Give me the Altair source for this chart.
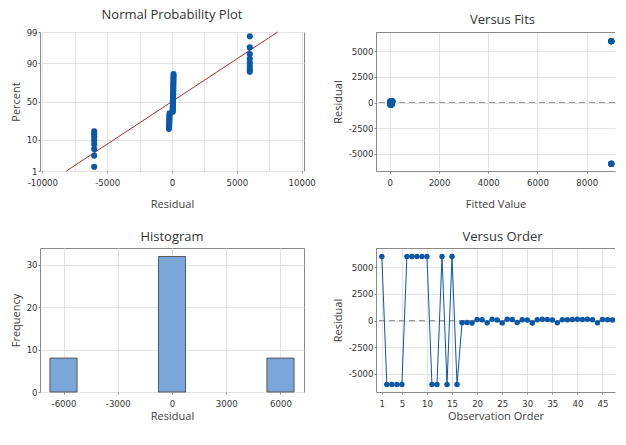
import altair as alt
import pandas as pd
from statistics import NormalDist, mean, stdev

# ---------------- data ----------------
observation = list(range(1, 49))
residual = [6000, -6000, -6000, -6000, -6000, 6000, 6000, 6000, 6000, 6000,
            -6000, -6000, 6000, -6000, 6000, -6000,
            -210, -190, -230, 90, 70, -200, 110, 60, -220, 120,
            100, -180, 80, 60, -240, 70, 110, 100, 60, -200,
            80, 70, 90, 120, 100, 110, 80, -210, 100, 70, 60, 90]
fitted = [9000] * 16 + [35, 50, 20, 80, 65, 40, 95, 15, 60, 110, 30, 70, 45, 85, 25, 100,
                        55, 10, 75, 90, 40, 60, 20, 115, 50, 85, 30, 65, 105, 45, 70, 25]

percent_ticks = [1, 10, 50, 90, 99]
npp_x_ticks = [-10000, -7500, -5000, -2500, 0, 2500, 5000, 7500, 10000]
fits_x_ticks = [0, 2000, 4000, 6000, 8000]
resid_ticks = [-5000, -2500, 0, 2500, 5000]
hist_x_ticks = [-6000, -3000, 0, 3000, 6000]
hist_y_ticks = [0, 10, 20, 30]
order_ticks = [1, 5, 10, 15, 20, 25, 30, 35, 40, 45]
reference_residual = [0]

# axis ranges
npp_x_range = [-10180, 10180]
fits_x_range = [-560, 9150]
fits_y_range = [-6700, 6900]
hist_x_range = [-7300, 7300]
hist_y_range = [0, 34]
order_x_range = [-0.16, 47.5]
order_y_range = [-6700, 6800]

# ---------------- derived tables ----------------
ND = NormalDist()
df = pd.DataFrame({"obs": observation, "residual": residual, "fit": fitted})
zero_df = pd.DataFrame({"residual": reference_residual})
top2_df = pd.DataFrame({"residual": [fits_y_range[1]]})
top4_df = pd.DataFrame({"residual": [order_y_range[1]]})

n = len(residual)
sorted_res = sorted(residual)
z_vals = [ND.inv_cdf((i + 1 - 0.3) / (n + 0.4)) for i in range(n)]
npp = pd.DataFrame({"residual": sorted_res, "z": z_vals})
zlim = ND.inv_cdf(percent_ticks[-1] / 100)
mu, sd = mean(residual), stdev(residual)
fit_line = pd.DataFrame({"residual": [mu - zlim * sd, mu + zlim * sd], "z": [-zlim, zlim]})

z_ticks = [ND.inv_cdf(p / 100) for p in percent_ticks]
z_label_expr = ""
for zt, p in zip(z_ticks, percent_ticks):
    z_label_expr += f"abs(datum.value - ({zt:.6f})) < 0.001 ? '{p}' : "
z_label_expr += "''"

# ---------------- style ----------------
BLUE = "#0B57A8"
FRAME = "#8a8a8a"
LBL_FONT = "Liberation Sans Narrow, DejaVu Sans Condensed, sans-serif"
raw_label = "'' + datum.value"

# ---------------- Normal probability plot ----------------
xs1 = alt.Scale(domain=npp_x_range, nice=False, zero=False)
ys1 = alt.Scale(domain=[-zlim, zlim], nice=False, zero=False)
x1_axis = alt.Axis(values=npp_x_ticks, title="Residual", labelFlushOffset=5,
                   labelExpr="datum.value % 5000 == 0 ? '' + datum.value : ''",
                   tickOpacity={"condition": {"test": "datum.value % 5000 == 0", "value": 1},
                                "value": 0})
y1_axis = alt.Axis(values=z_ticks, title="Percent", labelExpr=z_label_expr)

p1_line = alt.Chart(fit_line).mark_line(color="#A3302B", strokeWidth=1).encode(
    x=alt.X("residual:Q", scale=xs1, axis=x1_axis),
    y=alt.Y("z:Q", scale=ys1, axis=y1_axis),
)
p1_pts = alt.Chart(npp).mark_point(filled=True, size=38, opacity=1, color=BLUE).encode(
    x=alt.X("residual:Q", scale=xs1, axis=x1_axis),
    y=alt.Y("z:Q", scale=ys1, axis=y1_axis),
)
p1 = alt.layer(p1_line, p1_pts).properties(
    width=264, height=139,
    title=alt.TitleParams("Normal Probability Plot", offset=5.5, frame="group"),
)

# ---------------- Versus fits ----------------
xs2 = alt.Scale(domain=fits_x_range, nice=False, zero=False)
ys2 = alt.Scale(domain=fits_y_range, nice=False, zero=False)
x2_axis = alt.Axis(values=fits_x_ticks, title="Fitted Value", labelExpr=raw_label,
                   domain=True, domainColor=FRAME)
y2_axis = alt.Axis(values=resid_ticks, title="Residual", labelExpr=raw_label,
                   domain=True, domainColor=FRAME)
p2_zero = alt.Chart(zero_df).mark_rule(color="#9a9a9a", strokeDash=[6, 4], strokeWidth=1.2).encode(
    y=alt.Y("residual:Q", scale=ys2, axis=y2_axis)
)
p2_top = alt.Chart(top2_df).mark_rule(color=FRAME, strokeWidth=1, yOffset=0.5).encode(
    y=alt.Y("residual:Q", scale=ys2, axis=y2_axis)
)
p2_pts = alt.Chart(df).mark_point(filled=True, size=36, opacity=1, color=BLUE, clip=True).encode(
    x=alt.X("fit:Q", scale=xs2, axis=x2_axis),
    y=alt.Y("residual:Q", scale=ys2, axis=y2_axis),
)
p2 = alt.layer(p2_zero, p2_top, p2_pts).properties(
    width=239, height=139,
    title=alt.TitleParams("Versus Fits", offset=5.5, frame="group", dx=7),
    view=alt.ViewBackground(stroke="transparent"),
)

# ---------------- Histogram ----------------
xs3 = alt.Scale(domain=hist_x_range, nice=False, zero=False)
ys3 = alt.Scale(domain=hist_y_range, nice=False)
p3 = alt.Chart(df).transform_bin(
    "bin", "residual", bin=alt.Bin(extent=[-6750, 6750], step=1500, nice=False)
).transform_aggregate(
    count="count()", groupby=["bin", "bin_end"]
).mark_bar(fill="#7BA6DA", stroke="#555555", strokeWidth=1, opacity=1).encode(
    x=alt.X("bin:Q", scale=xs3, axis=alt.Axis(values=hist_x_ticks, title="Residual",
                                              labelExpr=raw_label, titlePadding=3)),
    x2="bin_end:Q",
    y=alt.Y("count:Q", scale=ys3, axis=alt.Axis(values=hist_y_ticks, title="Frequency",
                                                labelExpr=raw_label)),
    y2=alt.Y2(datum=0),
).properties(
    width=264, height=144,
    title=alt.TitleParams("Histogram", offset=4, frame="group"),
)

# ---------------- Versus order ----------------
xs4 = alt.Scale(domain=order_x_range, nice=False, zero=False)
ys4 = alt.Scale(domain=order_y_range, nice=False, zero=False)
x4_axis = alt.Axis(values=order_ticks, title="Observation Order", labelExpr=raw_label,
                   domain=True, domainColor=FRAME, titlePadding=3)
y4_axis = alt.Axis(values=resid_ticks, title="Residual", labelExpr=raw_label,
                   domain=True, domainColor=FRAME)
p4_zero = alt.Chart(zero_df).mark_rule(color="#9a9a9a", strokeDash=[6, 4], strokeWidth=1.2).encode(
    y=alt.Y("residual:Q", scale=ys4, axis=y4_axis)
)
p4_top = alt.Chart(top4_df).mark_rule(color=FRAME, strokeWidth=1, yOffset=0.5).encode(
    y=alt.Y("residual:Q", scale=ys4, axis=y4_axis)
)
p4_line = alt.Chart(df).mark_line(color=BLUE, strokeWidth=1, clip=True).encode(
    x=alt.X("obs:Q", scale=xs4, axis=x4_axis),
    y=alt.Y("residual:Q", scale=ys4, axis=y4_axis),
)
p4_pts = alt.Chart(df).mark_point(filled=True, size=30, opacity=1, color=BLUE, clip=True).encode(
    x=alt.X("obs:Q", scale=xs4, axis=x4_axis),
    y=alt.Y("residual:Q", scale=ys4, axis=y4_axis),
)
p4 = alt.layer(p4_zero, p4_top, p4_line, p4_pts).properties(
    width=239, height=144,
    title=alt.TitleParams("Versus Order", offset=4, frame="group", dx=7),
    view=alt.ViewBackground(stroke="transparent"),
)

chart = alt.concat(p1, p2, p3, p4, columns=2, bounds="flush",
                   spacing={"row": 77, "column": 72}).properties(
    padding={"left": 1, "top": 0, "right": 0, "bottom": 0}
).configure_view(
    stroke=FRAME, strokeWidth=1
).configure_axis(
    labelFont=LBL_FONT, labelFontSize=9.5, labelColor="#333333", labelPadding=4,
    titleFont="Open Sans", titleFontSize=11, titleFontWeight="normal", titleColor="#404040",
    titlePadding=12, gridColor="#e3e3e3", gridWidth=1, tickColor="#888888", tickSize=2,
    domain=False,
).configure_axisY(
    labelPadding=1, titlePadding=5,
).configure_title(
    font="Open Sans", fontSize=13, fontWeight="normal", color="#333333", anchor="middle",
)

chart.save("out.html", embed_options={"renderer": "svg", "actions": False})
